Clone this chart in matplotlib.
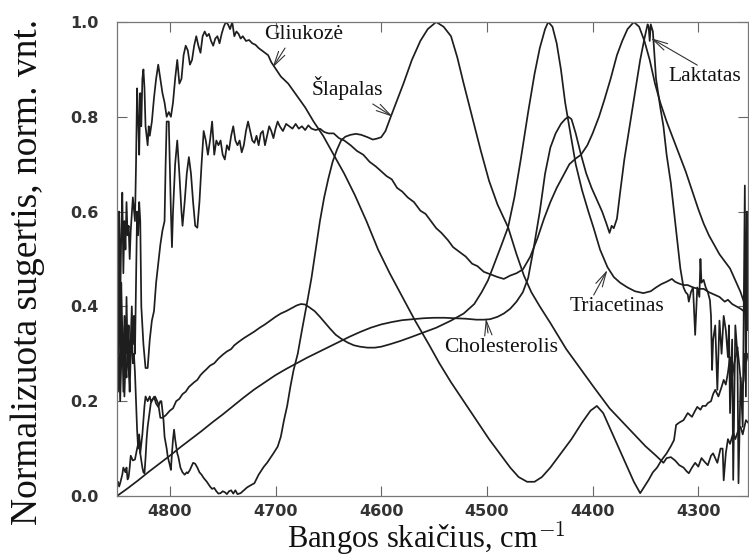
import numpy as np
import matplotlib
matplotlib.use('Agg')
import matplotlib.pyplot as plt

plt.rcParams['mathtext.fontset'] = 'cm'

# Spektrai: (bangos skaičius cm^-1, normalizuota sugertis)
gliukoze = np.array([
    (4850, 0.58), (4849, 0.48), (4848, 0.60), (4847, 0.40), (4846, 0.55), (4845, 0.64),
    (4844, 0.47), (4843, 0.58), (4842, 0.52), (4841, 0.62), (4840, 0.55), (4839, 0.57),
    (4838, 0.50), (4837, 0.56), (4835, 0.63), (4833, 0.58), (4832, 0.70), (4831, 0.86),
    (4830, 0.80), (4829, 0.72), (4828, 0.85), (4827, 0.78), (4826, 0.88), (4825, 0.90),
    (4824, 0.86), (4823, 0.78), (4821, 0.74), (4820, 0.78), (4819, 0.76), (4817, 0.79),
    (4815, 0.84), (4813, 0.88), (4811, 0.91), (4809, 0.88), (4807, 0.85), (4805, 0.83),
    (4803, 0.80), (4801, 0.81), (4799, 0.80), (4797, 0.83), (4795, 0.88), (4793, 0.92),
    (4791, 0.87), (4789, 0.88), (4787, 0.93), (4785, 0.95), (4783, 0.94), (4781, 0.91),
    (4779, 0.92), (4777, 0.95), (4775, 0.97), (4773, 0.95), (4771, 0.935), (4769, 0.97),
    (4767, 0.98), (4765, 0.97), (4763, 0.975), (4761, 0.96), (4759, 0.95), (4757, 0.965),
    (4755, 0.97), (4753, 0.955), (4751, 0.975), (4749, 0.99), (4747, 1.0), (4745, 0.995),
    (4743, 0.985), (4741, 1.0), (4739, 0.97), (4737, 0.98), (4735, 0.975), (4733, 0.965),
    (4731, 0.97), (4728, 0.96), (4725, 0.962), (4722, 0.955), (4719, 0.952), (4716, 0.945),
    (4713, 0.94), (4710, 0.935), (4707, 0.93), (4704, 0.915), (4701, 0.905), (4695, 0.885),
    (4688, 0.87), (4680, 0.845), (4672, 0.82), (4664, 0.79), (4655, 0.76), (4645, 0.72),
    (4635, 0.68), (4625, 0.635), (4614, 0.58), (4603, 0.52), (4592, 0.47), (4580, 0.42),
    (4568, 0.37), (4555, 0.32), (4545, 0.28), (4534, 0.24), (4522, 0.20), (4510, 0.16),
    (4498, 0.12), (4488, 0.09), (4478, 0.06), (4470, 0.04), (4462, 0.03), (4455, 0.03),
    (4448, 0.04), (4440, 0.06), (4430, 0.09), (4420, 0.12), (4410, 0.155), (4402, 0.18),
    (4396, 0.19), (4390, 0.175), (4385, 0.15), (4380, 0.125), (4374, 0.095), (4367, 0.06),
    (4361, 0.03), (4355, 0.006), (4351, 0.02), (4347, 0.034), (4343, 0.05), (4339, 0.06),
    (4335, 0.075), (4330, 0.09), (4326, 0.105), (4323, 0.118), (4321, 0.15), (4318, 0.155),
    (4314, 0.16), (4310, 0.175), (4306, 0.167), (4303, 0.18), (4301, 0.188), (4298, 0.182),
    (4296, 0.19), (4293, 0.19), (4291, 0.196), (4288, 0.20), (4286, 0.215), (4284, 0.224),
    (4281, 0.21), (4278, 0.23), (4276, 0.245), (4274, 0.235), (4272, 0.26), (4270, 0.293),
    (4268, 0.25), (4266, 0.28), (4264, 0.30), (4263, 0.314), (4261, 0.27), (4259, 0.22),
    (4257, 0.245), (4256, 0.30), (4255, 0.28), (4253, 0.30),
])

plokste = np.array([
    (4850, 0.40), (4849, 0.30), (4848, 0.52), (4847, 0.25), (4846, 0.45), (4845, 0.35),
    (4844, 0.22), (4843, 0.38), (4842, 0.26), (4841, 0.42), (4840, 0.30), (4839, 0.36),
    (4838, 0.25), (4837, 0.33), (4836, 0.40), (4835, 0.32), (4834, 0.38), (4833, 0.30),
    (4832, 0.45), (4831, 0.60), (4830, 0.55), (4829, 0.62), (4828, 0.58), (4827, 0.40),
    (4825, 0.32), (4823, 0.27), (4821, 0.27), (4819, 0.33), (4817, 0.37), (4815, 0.39),
    (4813, 0.45), (4811, 0.49), (4809, 0.53), (4807, 0.56), (4805, 0.58), (4804, 0.70),
    (4803, 0.79), (4801, 0.79), (4799, 0.60), (4798, 0.525), (4797, 0.60), (4795, 0.70),
    (4793, 0.75), (4791, 0.68), (4789, 0.60), (4788, 0.57), (4786, 0.62), (4784, 0.68),
    (4782, 0.715), (4780, 0.68), (4778, 0.62), (4776, 0.57), (4774, 0.566), (4772, 0.62),
    (4770, 0.70), (4768, 0.77), (4766, 0.75), (4764, 0.72), (4762, 0.75), (4760, 0.79),
    (4758, 0.72), (4756, 0.75), (4754, 0.74), (4752, 0.75), (4750, 0.72), (4748, 0.71),
    (4746, 0.74), (4744, 0.73), (4742, 0.76), (4740, 0.78), (4738, 0.75), (4736, 0.74),
    (4734, 0.75), (4732, 0.725), (4730, 0.74), (4728, 0.77), (4726, 0.79), (4724, 0.77),
    (4722, 0.75), (4720, 0.745), (4718, 0.76), (4716, 0.74), (4714, 0.765), (4712, 0.77),
    (4710, 0.74), (4708, 0.76), (4706, 0.78), (4704, 0.77), (4702, 0.755), (4700, 0.775),
    (4698, 0.79), (4696, 0.78), (4693, 0.77), (4690, 0.785), (4687, 0.78), (4684, 0.775),
    (4681, 0.785), (4678, 0.775), (4675, 0.78), (4672, 0.772), (4669, 0.782), (4666, 0.775),
    (4662, 0.772), (4658, 0.775), (4654, 0.768), (4650, 0.765), (4645, 0.765), (4640, 0.755),
    (4635, 0.75), (4629, 0.74), (4623, 0.728), (4617, 0.72), (4611, 0.705), (4605, 0.695),
    (4600, 0.685), (4595, 0.675), (4590, 0.668), (4585, 0.65), (4580, 0.642), (4575, 0.63),
    (4569, 0.62), (4563, 0.602), (4558, 0.595), (4553, 0.58), (4548, 0.565), (4543, 0.555),
    (4537, 0.54), (4532, 0.525), (4526, 0.515), (4520, 0.505), (4514, 0.49), (4509, 0.485),
    (4503, 0.473), (4497, 0.468), (4490, 0.462), (4484, 0.458), (4478, 0.465), (4472, 0.47),
    (4466, 0.478), (4459, 0.505), (4452, 0.545), (4446, 0.585), (4440, 0.62), (4434, 0.65),
    (4428, 0.675), (4422, 0.70), (4416, 0.712), (4411, 0.72), (4405, 0.74), (4400, 0.765),
    (4394, 0.80), (4389, 0.835), (4383, 0.88), (4377, 0.93), (4372, 0.96), (4367, 0.985),
    (4361, 1.0), (4356, 0.99), (4351, 0.96), (4346, 0.92), (4341, 0.87), (4336, 0.83),
    (4330, 0.79), (4324, 0.755), (4318, 0.72), (4312, 0.685), (4306, 0.645), (4300, 0.605),
    (4295, 0.575), (4290, 0.55), (4285, 0.53), (4280, 0.51), (4275, 0.495), (4270, 0.48),
    (4265, 0.455), (4260, 0.43), (4257, 0.41), (4253, 0.39),
])

slapalas = np.array([
    (4850, 0.02), (4849, 0.03), (4848, 0.02), (4847, 0.027), (4845, 0.045), (4844, 0.06),
    (4842, 0.05), (4841, 0.06), (4840, 0.035), (4839, 0.04), (4838, 0.06), (4837, 0.085),
    (4835, 0.075), (4833, 0.077), (4831, 0.10), (4829, 0.12), (4828, 0.09), (4826, 0.06),
    (4825, 0.05), (4824, 0.048), (4823, 0.08), (4822, 0.12), (4821, 0.146), (4819, 0.18),
    (4818, 0.196), (4816, 0.205), (4815, 0.209), (4813, 0.195), (4811, 0.188), (4809, 0.20),
    (4808, 0.20), (4806, 0.16), (4805, 0.125), (4803, 0.10), (4802, 0.083), (4800, 0.065),
    (4799, 0.055), (4798, 0.09), (4797, 0.12), (4796, 0.14), (4795, 0.12), (4793, 0.09),
    (4792, 0.083), (4790, 0.06), (4788, 0.05), (4786, 0.045), (4784, 0.05), (4783, 0.048),
    (4781, 0.055), (4779, 0.065), (4778, 0.07), (4776, 0.068), (4774, 0.06), (4772, 0.05),
    (4770, 0.045), (4768, 0.038), (4765, 0.03), (4762, 0.02), (4760, 0.015), (4758, 0.017),
    (4756, 0.01), (4754, 0.005), (4752, 0.006), (4750, 0.01), (4748, 0.008), (4746, 0.004),
    (4744, 0.01), (4742, 0.012), (4740, 0.005), (4738, 0.012), (4736, 0.004), (4733, 0.006),
    (4730, 0.012), (4727, 0.018), (4724, 0.022), (4720, 0.027), (4716, 0.045), (4713, 0.055),
    (4711, 0.062), (4708, 0.07), (4705, 0.08), (4702, 0.09), (4698, 0.104), (4695, 0.125),
    (4692, 0.16), (4689, 0.19), (4686, 0.23), (4683, 0.265), (4679, 0.30), (4675, 0.35),
    (4670, 0.41), (4666, 0.46), (4662, 0.52), (4658, 0.58), (4654, 0.63), (4650, 0.67),
    (4646, 0.705), (4642, 0.73), (4638, 0.75), (4634, 0.758), (4629, 0.762), (4624, 0.764),
    (4619, 0.762), (4613, 0.757), (4608, 0.752), (4604, 0.754), (4600, 0.757), (4596, 0.77),
    (4591, 0.80), (4585, 0.835), (4579, 0.87), (4571, 0.92), (4563, 0.96), (4556, 0.985),
    (4548, 1.0), (4541, 0.99), (4534, 0.97), (4528, 0.925), (4522, 0.87), (4514, 0.80),
    (4506, 0.73), (4498, 0.665), (4490, 0.615), (4480, 0.567), (4472, 0.51), (4465, 0.465),
    (4458, 0.43), (4450, 0.40), (4440, 0.365), (4425, 0.31), (4412, 0.27), (4399, 0.23),
    (4384, 0.185), (4367, 0.145), (4350, 0.105), (4340, 0.085), (4333, 0.07), (4330, 0.08),
    (4326, 0.082), (4322, 0.075), (4318, 0.065), (4314, 0.06), (4311, 0.052), (4309, 0.048),
    (4306, 0.06), (4303, 0.07), (4300, 0.062), (4297, 0.08), (4294, 0.072), (4291, 0.065),
    (4288, 0.085), (4286, 0.09), (4284, 0.08), (4282, 0.07), (4279, 0.10), (4277, 0.10),
    (4276, 0.033), (4274, 0.09), (4272, 0.12), (4270, 0.11), (4267, 0.133), (4265, 0.12),
    (4262, 0.14), (4260, 0.146), (4258, 0.13), (4255, 0.16), (4253, 0.155),
])

triacetinas = np.array([
    (4850, 0.32), (4849, 0.22), (4848, 0.30), (4847, 0.20), (4846, 0.28), (4845, 0.36),
    (4844, 0.30), (4843, 0.21), (4842, 0.28), (4841, 0.25), (4840, 0.33), (4839, 0.27),
    (4838, 0.22), (4837, 0.30), (4836, 0.35), (4835, 0.28), (4834, 0.30), (4833, 0.26),
    (4832, 0.20), (4831, 0.14), (4830, 0.10), (4829, 0.13), (4828, 0.09), (4827, 0.11),
    (4826, 0.13), (4825, 0.16), (4824, 0.19), (4823, 0.21), (4821, 0.20), (4819, 0.21),
    (4818, 0.20), (4816, 0.205), (4814, 0.21), (4812, 0.20), (4811, 0.195), (4809, 0.165),
    (4807, 0.165), (4804, 0.17), (4800, 0.18), (4797, 0.185), (4794, 0.20), (4791, 0.205),
    (4788, 0.215), (4785, 0.22), (4782, 0.23), (4780, 0.234), (4777, 0.24), (4774, 0.245),
    (4771, 0.255), (4768, 0.262), (4766, 0.266), (4762, 0.275), (4758, 0.28), (4754, 0.29),
    (4750, 0.298), (4746, 0.305), (4742, 0.31), (4739, 0.318), (4735, 0.325), (4730, 0.333),
    (4725, 0.34), (4720, 0.347), (4715, 0.355), (4710, 0.362), (4705, 0.37), (4700, 0.378),
    (4695, 0.385), (4690, 0.39), (4685, 0.396), (4680, 0.402), (4676, 0.405), (4672, 0.404),
    (4668, 0.398), (4663, 0.39), (4658, 0.378), (4653, 0.365), (4648, 0.352), (4643, 0.34),
    (4638, 0.332), (4632, 0.324), (4626, 0.318), (4620, 0.315), (4613, 0.313), (4606, 0.313),
    (4600, 0.315), (4592, 0.32), (4582, 0.327), (4572, 0.335), (4560, 0.345), (4548, 0.355),
    (4534, 0.37), (4522, 0.385), (4512, 0.405), (4505, 0.43), (4499, 0.455), (4493, 0.49),
    (4487, 0.525), (4480, 0.567), (4474, 0.63), (4468, 0.71), (4461, 0.81), (4455, 0.89),
    (4450, 0.945), (4445, 0.985), (4442, 1.0), (4438, 0.99), (4434, 0.955), (4430, 0.90),
    (4426, 0.83), (4421, 0.765), (4416, 0.70), (4410, 0.645), (4404, 0.60), (4399, 0.565),
    (4393, 0.52), (4386, 0.483), (4380, 0.462), (4374, 0.45), (4367, 0.44), (4360, 0.432),
    (4352, 0.428), (4345, 0.432), (4340, 0.44), (4335, 0.447), (4330, 0.452), (4325, 0.458),
    (4322, 0.452), (4318, 0.448), (4314, 0.445), (4310, 0.445), (4305, 0.44), (4300, 0.437),
    (4295, 0.437), (4290, 0.43), (4285, 0.425), (4280, 0.42), (4275, 0.41), (4272, 0.414),
    (4268, 0.405), (4264, 0.40), (4260, 0.395), (4257, 0.39), (4253, 0.385),
])

cholesterolis = np.array([
    (4850, 0.0), (4840, 0.016), (4830, 0.033), (4820, 0.051), (4810, 0.068), (4800, 0.085),
    (4790, 0.103), (4780, 0.12), (4770, 0.137), (4760, 0.155), (4750, 0.172), (4740, 0.19),
    (4730, 0.208), (4720, 0.225), (4710, 0.24), (4700, 0.255), (4690, 0.268), (4680, 0.28),
    (4670, 0.292), (4660, 0.303), (4650, 0.314), (4640, 0.325), (4630, 0.336), (4620, 0.346),
    (4610, 0.355), (4600, 0.362), (4590, 0.367), (4580, 0.371), (4570, 0.373), (4560, 0.375),
    (4550, 0.376), (4540, 0.376), (4530, 0.375), (4520, 0.374), (4510, 0.372), (4503, 0.372),
    (4497, 0.373), (4490, 0.378), (4484, 0.385), (4478, 0.395), (4472, 0.41), (4466, 0.43),
    (4461, 0.46), (4456, 0.52), (4450, 0.60), (4445, 0.68), (4440, 0.735), (4435, 0.765),
    (4430, 0.785), (4426, 0.795), (4423, 0.80), (4420, 0.795), (4416, 0.765), (4411, 0.72),
    (4406, 0.68), (4401, 0.65), (4396, 0.625), (4391, 0.60), (4387, 0.575), (4384, 0.555),
    (4382, 0.57), (4380, 0.565), (4377, 0.585), (4374, 0.64), (4370, 0.71), (4365, 0.78),
    (4360, 0.85), (4355, 0.92), (4351, 0.965), (4348, 0.995), (4347, 0.99), (4346, 0.96),
    (4345, 0.995), (4343, 0.98), (4340, 0.88), (4336, 0.82), (4333, 0.78), (4330, 0.72),
    (4326, 0.66), (4322, 0.58), (4317, 0.48), (4314, 0.44), (4312, 0.43), (4310, 0.425),
    (4309, 0.41), (4307, 0.43), (4305, 0.44), (4303, 0.34), (4301, 0.44), (4299, 0.42),
    (4298, 0.50), (4297, 0.45), (4295, 0.456), (4293, 0.44), (4291, 0.43), (4289, 0.413),
    (4288, 0.38), (4287, 0.266), (4286, 0.33), (4284, 0.36), (4282, 0.224), (4280, 0.37),
    (4278, 0.30), (4276, 0.38), (4274, 0.35), (4272, 0.293), (4271, 0.36), (4270, 0.175),
    (4268, 0.33), (4267, 0.034), (4265, 0.36), (4263, 0.30), (4262, 0.027), (4260, 0.25),
    (4258, 0.146), (4256, 0.655), (4255, 0.21), (4254, 0.60), (4253, 0.35),
])

spektrai = [gliukoze, plokste, slapalas, triacetinas, cholesterolis]

# Užrašai: tekstas, teksto vieta, rodyklės pradžia, rodyklės galas
uzrasai = [
    ('Gliukozė', (4673, 0.973), (4691, 0.945), (4703, 0.903)),
    ('Šlapalas', (4632, 0.861), (4608, 0.827), (4589, 0.800)),
    ('Laktatas', (4294, 0.884), (4301, 0.909), (4345, 0.966)),
    ('Triacetinas', (4377, 0.399), (4399, 0.424), (4386, 0.477)),
    ('Cholesterolis', (4487, 0.314), (4499, 0.344), (4501, 0.375)),
]

x_ticks = [4800, 4700, 4600, 4500, 4400, 4300]
y_ticks = [0.0, 0.2, 0.4, 0.6, 0.8, 1.0]

fig = plt.figure(figsize=(7.49, 5.57), dpi=100)
ax = fig.add_axes([117 / 749, 61 / 557, 631 / 749, 474 / 557])

for s in spektrai:
    ax.plot(s[:, 0], s[:, 1], color='#1e1e1e', lw=1.25)

for tekstas, xy_t, xy_a, xy_b in uzrasai:
    ax.annotate('', xy=xy_b, xytext=xy_a,
                arrowprops=dict(arrowstyle='->, head_length=0.9, head_width=0.22',
                                color='#333333', lw=0.8, shrinkA=0, shrinkB=0,
                                mutation_scale=12))
    ax.text(xy_t[0], xy_t[1], tekstas, family='Liberation Serif', fontsize=15.5,
            ha='center', va='center', color='#111111')

ax.set_xlim(4850, 4253)
ax.set_ylim(0, 1.0)
ax.set_xticks(x_ticks)
ax.set_yticks(y_ticks)
ax.set_yticklabels([f'{v:.1f}' for v in y_ticks])
ax.tick_params(direction='in', length=7, width=0.8, color='#666666',
               top=True, right=True, labelsize=11.5)
ax.tick_params(axis='x', pad=6)
ax.tick_params(axis='y', pad=13)
for lab in ax.get_xticklabels() + ax.get_yticklabels():
    lab.set_fontweight('bold')
    lab.set_family('DejaVu Sans')
    lab.set_color('#333333')
for sp in ax.spines.values():
    sp.set_color('#777777')
    sp.set_linewidth(0.9)

fig.text(28 / 749, 1 - 272 / 557, 'Normalizuota sugertis, norm. vnt.',
         family='Liberation Serif', fontsize=27, rotation=90,
         ha='center', va='center', color='#111111')
fig.text(426 / 749, 1 - 548 / 557, 'Bangos skaičius, cm$^{-1}$',
         family='Liberation Serif', fontsize=22,
         ha='center', va='baseline', color='#111111')

fig.savefig('out.png', dpi=100)
